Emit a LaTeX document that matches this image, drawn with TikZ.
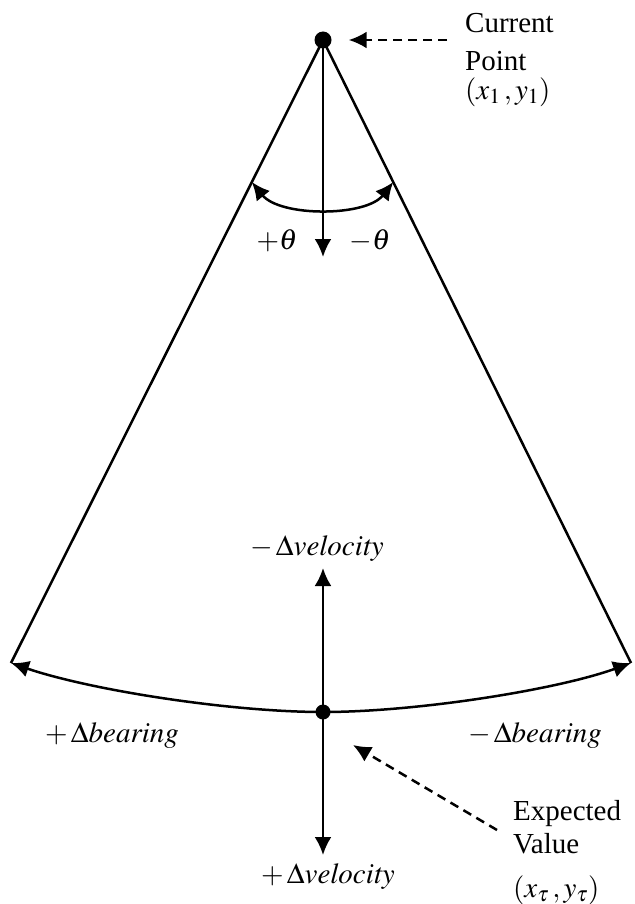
\documentclass[tikz,border=0pt]{standalone}
\usepackage{mathptmx}
\usepackage{fontspec}
\setmainfont{Liberation Serif}
\usetikzlibrary{arrows.meta, positioning, calc}

\begin{document}
\begin{tikzpicture}[x=1pt, y=-1pt,
  dot/.style={circle, fill=black, inner sep=0pt, minimum size=17pt},
  lab/.style={font=\fontsize{29}{38}\selectfont, inner sep=0pt},
  line/.style={line width=2.5pt, black, line join=round},
  arr/.style={line width=2.5pt, -{Latex[length=18pt, width=17pt]}},
  arrs/.style={line width=2.5pt, {Latex[length=18pt, width=17pt]}-{Latex[length=18pt, width=17pt]}},
  dasharr/.style={line width=2.5pt, dash pattern=on 9pt off 6pt, -{Latex[length=18pt, width=17pt]}}
]
\useasboundingbox (0,0) rectangle (634,904);
% Points
\node[dot](cur) at (323,40){};
\node[dot, minimum size=15pt](exp) at (323,712){};
\coordinate (L) at (11,663);
\coordinate (R) at (631,663);
% Cone
\draw[line] (L) -- (cur.center) -- (R);
\draw[arrs] (L) .. controls (90,690) and (230,712) .. (exp.center)
  .. controls (416,712) and (556,690) .. (R);
% Angle
\coordinate (thL) at ($(cur.center)!0.228!(L)$);
\coordinate (thR) at ($(cur.center)!0.228!(R)$);
\coordinate (topTip) at (323,257);
\draw[arrs] (thL) .. controls (280,217) and (366,217) .. (thR);
\draw[arr] (cur.center) -- (topTip);
\node[lab, anchor=base](thp) at (277,249){$+\theta$};
\node[lab, anchor=base](thm) at (370,249){$-\theta$};
% Velocity
\coordinate (upTip) at (323,568);
\coordinate (downTip) at (323,855);
\draw[arr] (exp.center) -- (upTip);
\draw[arr] (exp.center) -- (downTip);
\node[lab, anchor=base](velm) at (317,555){$-\,\Delta\mathit{velocity}$};
\node[lab, anchor=base](velp) at (328,883){$+\,\Delta\mathit{velocity}$};
% Bearing
\node[lab, anchor=base](brp) at (112,742){$+\,\Delta\mathit{bearing}$};
\node[lab, anchor=base](brm) at (535,742){$-\,\Delta\mathit{bearing}$};
% Pointers
\node[lab, align=left, anchor=north west](curlab) at (465,13){Current\\Point\\[-9pt]$(x_1\,, y_1)$};
\node[lab, align=left, anchor=north west](explab) at (513,800){Expected\\[-5pt]Value\\[6pt]$(x_\tau\,, y_\tau)$};
\coordinate (expTip) at (353,745);
\draw[dasharr, shorten <=18pt, shorten >=17pt] (curlab.west |- cur) -- (cur.east);
\draw[dasharr] ([xshift=-16pt, yshift=-30pt]explab.north west) -- (expTip);
\end{tikzpicture}
\end{document}
